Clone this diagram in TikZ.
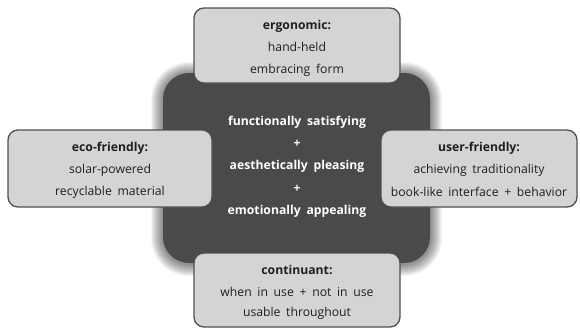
\documentclass[tikz,border=0pt]{standalone}
\usepackage{fontspec}
\setmainfont[WordSpace={1.8}]{Open Sans}
\definecolor{darkbg}{HTML}{4A4A4A}
\definecolor{boxfill}{HTML}{D4D4D4}
\definecolor{boxline}{HTML}{505050}
\begin{document}
\begin{tikzpicture}[x=1pt,y=-1pt,
  core/.style={fill=darkbg, rounded corners=26pt},
  glow/.style={fill=black, fill opacity=0.045},
  petal/.style={fill=boxfill, draw=boxline, line width=1.3pt, rounded corners=10pt},
  txt/.style={font=\fontsize{12.2}{14}\selectfont, text=black!88, inner sep=0pt},
  btxt/.style={font=\fontsize{12.2}{14}\selectfont\bfseries, text=black!88, inner sep=0pt},
  ctxt/.style={font=\fontsize{12.2}{14}\selectfont\bfseries, text=white, inner sep=0pt}]
\useasboundingbox (0,0) rectangle (580,330);
\fill[white] (0,0) rectangle (580,330);
% glow around core
\foreach \d in {1,2,...,12} {
  \fill[glow, rounded corners={26pt+\d pt}] (163-\d,73-\d+1) rectangle (430+\d,263+\d+1);
}
% core
\path[core] (163,73) rectangle (430,263);
% petals
\draw[petal] (194,8) rectangle (400,83);
\draw[petal] (8,130) rectangle (212,207);
\draw[petal] (381,130) rectangle (577,207);
\draw[petal] (194,253) rectangle (400,327);
% center text
\node[ctxt] (c1) at (297,122) {functionally satisfying};
\node[ctxt] (c2) at (297,144) {+};
\node[ctxt] (c3) at (297,166) {aesthetically pleasing};
\node[ctxt] (c4) at (297,189) {+};
\node[ctxt] (c5) at (297,211) {emotionally appealing};
% top
\node[btxt] (t1) at (297,26) {ergonomic:};
\node[txt] (t2) at (297,47) {hand-held};
\node[txt] (t3) at (297,70) {embracing form};
% left
\node[btxt] (l1) at (110,148) {eco-friendly:};
\node[txt] (l2) at (110,170) {solar-powered};
\node[txt] (l3) at (110,192) {recyclable material};
% right
\node[btxt] (r1) at (479,148) {user-friendly:};
\node[txt] (r2) at (479,170) {achieving traditionality};
\node[txt] (r3) at (479,192) {book-like interface + behavior};
% bottom
\node[btxt] (b1) at (297,270) {continuant:};
\node[txt] (b2) at (297,292) {when in use + not in use};
\node[txt] (b3) at (297,313) {usable throughout};
\end{tikzpicture}
\end{document}
